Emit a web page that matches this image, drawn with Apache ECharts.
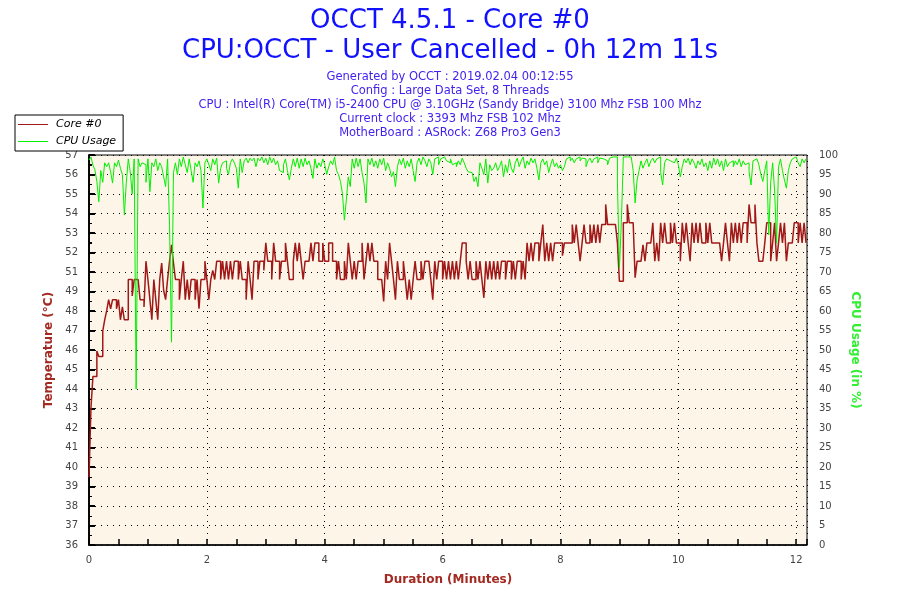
<!DOCTYPE html>
<html>
<head>
<meta charset="utf-8">
<title>OCCT 4.5.1 - Core #0</title>
<script src="https://cdn.jsdelivr.net/npm/echarts@6/dist/echarts.min.js"></script>
<style>
  html, body { margin: 0; padding: 0; background: #fff; }
  #container { width: 900px; height: 600px; }
</style>
</head>
<body>
<div id="container"></div>
<script type="text/javascript">
// header text
var headerLines = ['OCCT 4.5.1 - Core #0', 'CPU:OCCT - User Cancelled - 0h 12m 11s'];
var infoLines = [
    'Generated by OCCT : 2019.02.04 00:12:55',
    'Config : Large Data Set, 8 Threads',
    'CPU : Intel(R) Core(TM) i5-2400 CPU @ 3.10GHz (Sandy Bridge) 3100 Mhz FSB 100 Mhz',
    'Current clock : 3393 Mhz FSB 102 Mhz',
    'MotherBoard : ASRock: Z68 Pro3 Gen3'
];
var seriesNames = ['Core #0', 'CPU Usage'];

// one sample every 2 seconds, test length 12m11s
var sampleSeconds = 2;
var durationMax = 12.183;

// temperature axis: 20 steps, labels as printed by OCCT
var tempMin = 35.6;
var tempMax = 56.9;
var tempStep = 1.065;
var tempTickLabels = ['36', '37', '38', '39', '40', '41', '42', '43', '44', '45', '46',
    '47', '48', '49', '51', '52', '53', '54', '55', '56', '57'];

var coreTemp = [
    39.3, 43.1, 44.8, 44.8, 46.2, 45.9, 45.9, 47.3, 47.9, 48.4,
    49.0, 48.5, 49.0, 49.0, 48.5, 49.0, 47.9, 48.6, 47.9, 47.9,
    50.1, 50.1, 49.2, 50.1, 50.1, 50.1, 49.0, 49.0, 48.6, 51.1,
    50.1, 49.0, 47.9, 50.1, 49.0, 47.9, 50.1, 51.0, 49.5, 49.0,
    50.1, 51.1, 52.0, 51.0, 50.1, 50.1, 49.0, 50.1, 51.1, 49.0,
    50.1, 49.0, 50.1, 50.1, 49.0, 50.1, 48.5, 50.1, 50.1, 51.1,
    50.1, 49.0, 50.1, 50.6, 50.1, 51.1, 51.1, 50.1, 51.1, 50.1,
    51.1, 50.1, 51.1, 50.1, 51.1, 51.1, 50.1, 51.1, 50.1, 50.1,
    49.0, 51.1, 50.1, 49.0, 51.1, 51.1, 50.1, 51.1, 51.1, 50.6,
    52.1, 51.1, 51.1, 50.1, 52.1, 51.1, 51.1, 50.1, 51.1, 51.1,
    52.1, 51.1, 50.1, 50.1, 51.1, 52.1, 51.1, 52.1, 51.1, 50.1,
    51.1, 51.1, 51.1, 52.1, 51.1, 52.1, 52.1, 51.1, 51.1, 52.1,
    51.1, 51.1, 52.1, 52.1, 51.1, 51.1, 50.1, 51.1, 50.1, 50.1,
    51.1, 50.1, 52.1, 51.1, 50.1, 51.1, 50.1, 51.1, 51.1, 52.1,
    50.1, 51.1, 52.1, 51.1, 52.1, 51.1, 51.1, 50.1, 50.1, 50.1,
    48.9, 51.1, 50.1, 52.1, 51.1, 50.1, 49.0, 51.1, 50.1, 50.1,
    51.1, 50.1, 49.0, 50.1, 49.0, 50.1, 51.1, 50.1, 50.1, 51.1,
    50.1, 51.1, 51.1, 51.1, 50.1, 49.0, 51.1, 50.1, 51.1, 51.1,
    50.1, 51.1, 50.1, 51.1, 50.1, 51.1, 50.1, 51.1, 50.1, 51.1,
    52.1, 52.1, 51.1, 50.1, 51.1, 50.1, 50.1, 51.1, 50.1, 51.1,
    50.1, 49.1, 51.1, 50.1, 51.1, 50.1, 51.1, 50.1, 51.1, 50.1,
    51.1, 51.1, 50.1, 51.1, 51.1, 50.1, 51.1, 50.1, 51.1, 51.1,
    50.1, 51.1, 50.1, 52.1, 51.1, 52.1, 51.1, 52.1, 52.1, 51.1,
    52.1, 53.1, 51.1, 52.1, 51.1, 52.1, 51.1, 52.1, 52.1, 52.1,
    52.1, 51.4, 52.1, 52.1, 52.1, 52.1, 53.1, 52.1, 53.1, 52.1,
    51.1, 52.1, 53.1, 52.1, 52.1, 53.1, 52.1, 53.1, 52.1, 53.1,
    52.1, 53.1, 53.1, 54.2, 53.1, 53.1, 53.1, 53.1, 53.1, 52.1,
    50.0, 50.0, 53.2, 53.2, 54.2, 53.2, 53.2, 53.2, 50.2, 51.1,
    51.1, 51.1, 52.0, 51.1, 52.1, 52.1, 52.1, 53.2, 51.1, 52.1,
    51.1, 53.2, 52.1, 53.2, 52.1, 52.1, 53.2, 52.1, 53.2, 52.1,
    52.1, 51.1, 53.2, 52.1, 53.2, 52.1, 51.1, 53.2, 52.1, 53.2,
    52.1, 53.2, 52.1, 52.1, 53.2, 52.1, 53.2, 52.1, 52.1, 52.1,
    52.1, 52.1, 51.1, 52.1, 53.2, 52.1, 51.1, 53.2, 52.1, 53.2,
    52.1, 53.2, 52.1, 53.2, 53.2, 52.1, 54.2, 53.2, 53.2, 54.2,
    52.1, 51.1, 51.1, 51.1, 52.1, 53.2, 53.2, 51.1, 52.1, 53.2,
    51.1, 52.1, 53.2, 52.1, 53.2, 51.1, 52.1, 52.1, 52.1, 53.2,
    53.2, 52.1, 53.2, 52.1, 53.2, 52.1
];

var cpuUsage = [
    98.7, 99.5, 97.4, 96.2, 93.2, 88.0, 96.0, 93.0, 98.0, 97.0,
    98.0, 95.7, 92.8, 98.0, 97.0, 98.7, 96.6, 95.0, 84.6, 93.0,
    99.0, 95.7, 90.0, 99.0, 40.0, 99.0, 97.0, 98.0, 97.5, 93.0,
    99.0, 90.6, 98.0, 97.0, 99.0, 96.0, 98.0, 97.0, 94.4, 91.9,
    99.0, 82.0, 52.0, 95.5, 98.0, 95.0, 99.0, 97.0, 99.5, 97.5,
    95.5, 99.0, 96.0, 93.0, 98.0, 97.0, 98.5, 96.0, 86.4, 98.0,
    99.0, 97.5, 96.0, 99.0, 97.5, 99.2, 92.8, 96.6, 98.0, 98.5,
    96.6, 95.0, 98.0, 99.0, 98.0, 96.6, 91.5, 99.0, 95.5, 98.5,
    99.2, 98.0, 99.2, 98.5, 99.2, 97.0, 99.2, 98.5, 99.5, 98.0,
    99.2, 97.5, 99.5, 98.0, 99.2, 97.5, 98.5, 96.0, 95.5, 97.5,
    99.0, 96.0, 93.6, 96.6, 99.0, 97.0, 99.2, 96.6, 99.0, 97.0,
    99.2, 97.5, 98.5, 96.6, 94.0, 99.0, 96.6, 98.0, 97.0, 99.0,
    97.5, 95.0, 97.0, 98.5, 97.5, 99.5, 96.0, 95.0, 93.2, 90.2,
    83.3, 88.5, 94.4, 91.9, 99.0, 96.6, 99.2, 97.0, 99.0, 95.5,
    92.8, 87.7, 99.0, 97.5, 99.2, 97.0, 98.5, 96.6, 99.0, 97.5,
    99.2, 96.0, 98.0, 96.6, 94.4, 95.7, 91.9, 97.0, 99.0, 97.5,
    99.2, 96.6, 98.5, 97.0, 99.0, 96.0, 93.2, 98.0, 99.2, 97.5,
    99.5, 98.5, 97.0, 99.0, 98.0, 95.0, 99.0, 99.5, 97.5, 99.0,
    99.5, 99.0, 98.5, 98.0, 99.0, 97.5, 98.0, 97.0, 98.5, 97.5,
    99.2, 98.0, 96.6, 95.7, 95.5, 95.0, 93.2, 94.4, 91.9, 98.0,
    96.6, 95.0, 99.0, 92.8, 97.5, 96.0, 96.6, 98.0, 96.0, 97.0,
    98.5, 94.4, 97.5, 95.5, 99.0, 96.6, 95.5, 98.0, 99.2, 97.0,
    98.5, 99.5, 96.6, 98.5, 97.5, 99.2, 98.0, 99.0, 96.6, 93.6,
    98.0, 99.0, 97.5, 98.5, 95.5, 97.5, 99.0, 97.0, 98.0, 96.6,
    97.5, 96.0, 97.0, 99.0, 99.5, 98.5, 99.2, 98.0, 99.0, 99.5,
    98.5, 99.2, 99.0, 97.0, 98.5, 99.2, 98.0, 99.0, 99.5, 98.0,
    99.2, 99.0, 99.5, 98.5, 97.5, 99.2, 99.5, 99.0, 99.5, 92.8,
    71.0, 83.0, 99.5, 99.5, 99.2, 99.5, 99.2, 96.0, 87.7, 93.6,
    96.0, 98.5, 96.6, 98.0, 99.0, 97.0, 98.5, 99.2, 98.0, 99.0,
    99.5, 95.5, 92.3, 98.0, 99.0, 98.5, 99.0, 98.0, 98.5, 99.2,
    97.5, 94.4, 97.0, 99.0, 98.0, 99.2, 97.5, 99.0, 98.0, 96.6,
    98.5, 97.5, 99.0, 97.0, 98.0, 96.0, 98.5, 96.6, 99.2, 97.5,
    99.0, 97.0, 98.5, 96.0, 99.0, 97.0, 98.0, 98.5, 97.0, 98.5,
    97.5, 99.0, 97.0, 98.5, 97.5, 98.0, 95.7, 92.3, 98.5, 99.0,
    98.5, 97.5, 95.0, 93.2, 96.0, 98.5, 79.5, 93.0, 98.0, 91.0,
    77.4, 97.0, 99.0, 96.0, 93.6, 91.5, 96.0, 98.0, 99.0, 99.5,
    99.2, 98.0, 97.0, 99.0, 98.0, 99.0
];

var tempColor = '#a01818';
var cpuColor = '#00f000';
var nameRed = '#a32a22';
var font = 'DejaVu Sans';

function withTime(values) {
    return values.map(function (v, i) {
        return [i * sampleSeconds / 60, v];
    });
}

var dotted = { color: '#000', type: [1, 5], width: 1 };
var tickText = { color: '#444', fontSize: 10, fontFamily: font };

var titles = [];
headerLines.forEach(function (txt, i) {
    titles.push({
        text: txt, left: 'center', top: 6 + i * 30, padding: 0,
        textStyle: { color: '#1111ff', fontSize: 26, fontWeight: 'normal', fontFamily: font, lineHeight: 30 }
    });
});
infoLines.forEach(function (txt, i) {
    titles.push({
        text: txt, left: 'center', top: 70 + i * 13.9, padding: 0,
        textStyle: { color: '#4422ee', fontSize: 11.5, fontWeight: 'normal', fontFamily: font, lineHeight: 14 }
    });
});

var dom = document.getElementById("container");
var myChart = echarts.init(dom);
var option = {
    animation: false,
    backgroundColor: '#fff',
    title: titles,
    legend: {
        data: seriesNames,
        orient: 'vertical',
        left: 15,
        top: 115,
        padding: [4, 7, 4, 3],
        itemGap: 6,
        itemWidth: 30,
        itemHeight: 1,
        icon: 'rect',
        borderColor: '#000',
        borderWidth: 1,
        backgroundColor: '#fff',
        textStyle: { color: '#000', fontSize: 11, fontStyle: 'italic', fontFamily: font, padding: [0, 0, 0, 3] }
    },
    grid: {
        left: 89,
        right: 93,
        top: 155,
        bottom: 55,
        show: true,
        backgroundColor: '#fdf6e8',
        borderColor: '#000',
        borderWidth: 1
    },
    xAxis: [{
        type: 'value',
        min: 0,
        max: durationMax,
        interval: 2,
        name: 'Duration (Minutes)',
        nameLocation: 'middle',
        nameGap: 29,
        nameTextStyle: { color: nameRed, fontSize: 12, fontWeight: 'bold', fontFamily: font },
        axisLine: { lineStyle: { color: '#000', width: 1.5 } },
        axisTick: { show: false },
        axisLabel: Object.assign({ margin: 10, showMaxLabel: false }, tickText),
        splitLine: { show: true, lineStyle: dotted }
    }, {
        // small ticks every half minute
        type: 'value',
        min: 0,
        max: durationMax,
        interval: 0.5,
        position: 'bottom',
        axisLine: { show: false },
        axisTick: { inside: true, length: 6, lineStyle: { color: '#000', width: 1.5 } },
        axisLabel: { show: false },
        splitLine: { show: false }
    }],
    yAxis: [{
        type: 'value',
        position: 'left',
        min: tempMin,
        max: tempMax,
        interval: tempStep,
        name: 'Temperature (°C)',
        nameLocation: 'middle',
        nameGap: 31,
        nameTextStyle: { color: nameRed, fontSize: 12, fontWeight: 'bold', fontFamily: font },
        axisLine: { show: true, lineStyle: { color: '#000', width: 1.5 } },
        axisTick: { inside: true, length: 6, lineStyle: { color: '#000', width: 2 } },
        minorTick: { show: true, splitNumber: 2, length: 3, lineStyle: { color: '#000', width: 1 } },
        axisLabel: Object.assign({
            margin: 11,
            formatter: function (v) {
                var k = Math.round((v - tempMin) / tempStep);
                return tempTickLabels[k] || '';
            }
        }, tickText),
        splitLine: { show: true, lineStyle: dotted }
    }, {
        type: 'value',
        position: 'right',
        min: 0,
        max: 100,
        interval: 5,
        name: 'CPU Usage (in %)',
        nameLocation: 'middle',
        nameRotate: -90,
        nameGap: 33,
        nameTextStyle: { color: '#33ee33', fontSize: 12, fontWeight: 'bold', fontFamily: font },
        axisLine: { show: true, lineStyle: { color: '#000', width: 1.5 } },
        axisTick: { inside: false, length: 5, lineStyle: { color: '#000', width: 2 } },
        minorTick: { show: true, splitNumber: 2, length: 3, lineStyle: { color: '#000', width: 1 } },
        axisLabel: Object.assign({ margin: 12 }, tickText),
        splitLine: { show: false }
    }],
    series: [{
        name: seriesNames[0],
        type: 'line',
        xAxisIndex: 0,
        yAxisIndex: 0,
        step: 'end',
        symbol: 'none',
        data: withTime(coreTemp),
        lineStyle: { color: tempColor, width: 1.5 },
        itemStyle: { color: tempColor }
    }, {
        name: seriesNames[1],
        type: 'line',
        xAxisIndex: 0,
        yAxisIndex: 1,
        step: 'end',
        symbol: 'none',
        data: withTime(cpuUsage),
        lineStyle: { color: cpuColor, width: 1 },
        itemStyle: { color: cpuColor }
    }]
};
myChart.setOption(option);
</script>
</body>
</html>
